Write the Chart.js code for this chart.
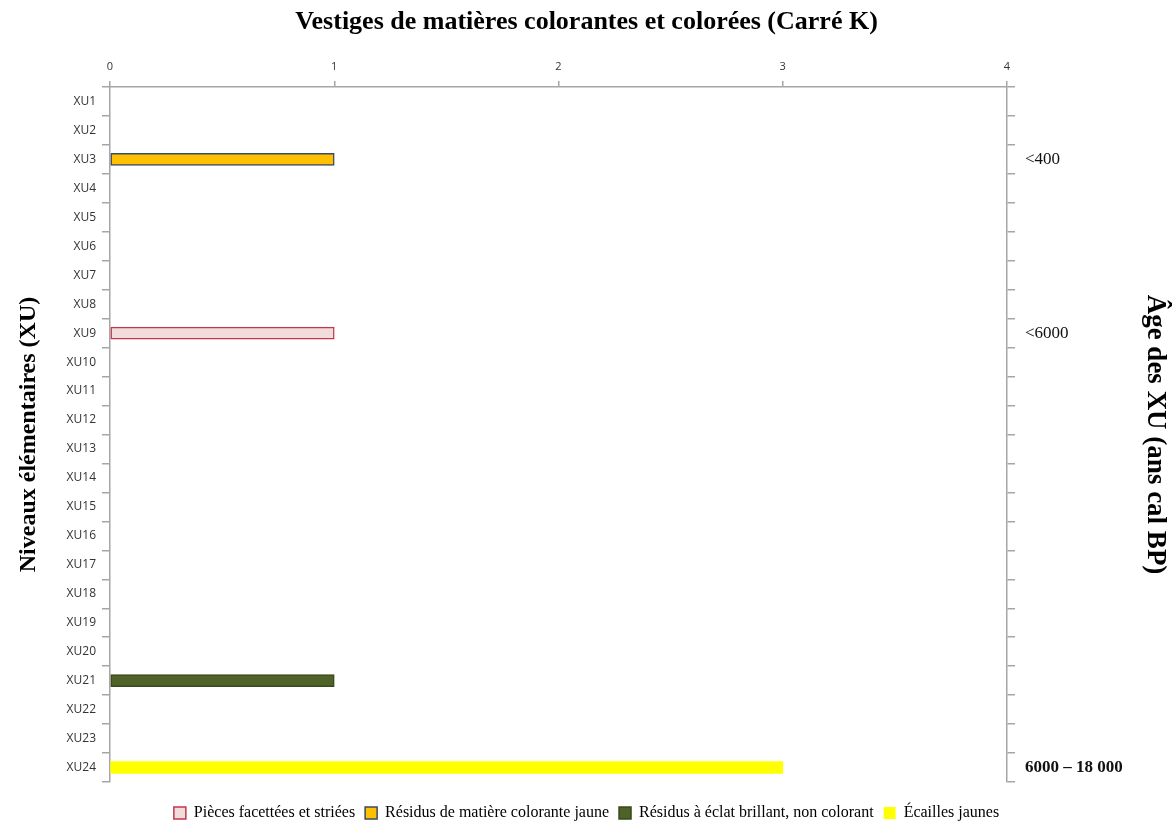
<!DOCTYPE html>
<html>
<head>
<meta charset="utf-8">
<script src="https://cdn.jsdelivr.net/npm/chart.js@4.4.0/dist/chart.umd.min.js"></script>
<style>
  html, body { margin: 0; padding: 0; background: #fff; }
  #wrap { width: 1173px; height: 825px; }
</style>
</head>
<body>
<div id="wrap"><canvas id="graphique"></canvas></div>
<script>
// Niveaux élémentaires
const niveaux = ['XU1','XU2','XU3','XU4','XU5','XU6','XU7','XU8','XU9','XU10','XU11','XU12',
                 'XU13','XU14','XU15','XU16','XU17','XU18','XU19','XU20','XU21','XU22','XU23','XU24'];
// Âge des XU (axe de droite)
const ages = ['','','<400','','','','','','<6000','','','','','','','','','','','','','','','6000 – 18 000'];

// Séries (nombre de vestiges)
const piecesFacettees = [null,null,null,null,null,null,null,null,1,null,null,null,null,null,null,null,null,null,null,null,null,null,null,null];
const residusJaune    = [null,null,1,null,null,null,null,null,null,null,null,null,null,null,null,null,null,null,null,null,null,null,null,null];
const residusBrillant = [null,null,null,null,null,null,null,null,null,null,null,null,null,null,null,null,null,null,null,null,1,null,null,null];
const ecaillesJaunes  = [null,null,null,null,null,null,null,null,null,null,null,null,null,null,null,null,null,null,null,null,null,null,null,3];

const xTicks = [0, 1, 2, 3, 4];

const gris = '#A6A6A6';
const serif = "'Liberation Serif', 'DejaVu Serif', serif";
const sans = "'Open Sans', 'DejaVu Sans', sans-serif";

const data = {
    labels: niveaux,
    datasets: [
        { label: 'Pièces facettées et striées', data: piecesFacettees,
          backgroundColor: '#F2DCDB', borderColor: '#C0394F', borderWidth: 1.5 },
        { label: 'Résidus de matière colorante jaune', data: residusJaune,
          backgroundColor: '#FFC000', borderColor: '#3B4A63', borderWidth: 1.5 },
        { label: 'Résidus à éclat brillant, non colorant', data: residusBrillant,
          backgroundColor: '#4F6228', borderColor: '#3A4A1C', borderWidth: 1.5 },
        { label: 'Écailles jaunes', data: ecaillesJaunes,
          backgroundColor: '#FFFF00', borderColor: '#FFFF00', borderWidth: 0 }
    ]
};

const config = {
    type: 'bar',
    data: data,
    options: {
        indexAxis: 'y',
        responsive: true,
        maintainAspectRatio: false,
        animation: false,
        layout: { padding: { top: 0, right: 0, bottom: -6, left: 0 } },
        datasets: { bar: { barThickness: 12, borderSkipped: false } },
        plugins: {
            title: {
                display: true,
                text: 'Vestiges de matières colorantes et colorées (Carré K)',
                color: '#000',
                font: { family: serif, size: 26, weight: 'bold' },
                padding: { top: 7, bottom: 4 }
            },
            legend: {
                position: 'bottom',
                // titre vide : sert juste d'espace au-dessus des étiquettes
                title: { display: true, text: ' ', font: { size: 10, lineHeight: 1.3 }, padding: 0 },
                labels: {
                    color: '#000',
                    font: { family: serif, size: 16 },
                    boxWidth: 12,
                    boxHeight: 12,
                    padding: 10
                }
            },
            tooltip: { enabled: false }
        },
        scales: {
            x: {
                position: 'top',
                stacked: true,
                min: 0,
                max: 4,
                afterBuildTicks: function (scale) {
                    scale.ticks = xTicks.map(v => ({ value: v }));
                },
                afterFit: function (scale) { scale.height = 44.8; },
                grid: { drawOnChartArea: false, color: gris, tickLength: 6, lineWidth: 1.5 },
                border: { color: gris, width: 1.5 },
                ticks: { color: '#333', font: { family: sans, size: 11 }, padding: 8 }
            },
            y: {
                position: 'left',
                stacked: true,
                afterFit: function (scale) { scale.width = 110; },
                grid: { drawOnChartArea: false, offset: true, color: gris, tickLength: 8, lineWidth: 1.5 },
                border: { color: gris, width: 1.5 },
                ticks: { color: '#333', font: { family: sans, size: 12 }, padding: 6, autoSkip: false },
                title: {
                    display: true,
                    text: 'Niveaux élémentaires (XU)',
                    color: '#000',
                    font: { family: serif, size: 24, weight: 'bold' },
                    padding: { top: 14, bottom: 0 }
                }
            },
            y2: {
                type: 'category',
                position: 'right',
                labels: ages,
                afterFit: function (scale) { scale.width = 166; },
                grid: { drawOnChartArea: false, offset: true, color: gris, tickLength: 8, lineWidth: 1.5 },
                border: { color: gris, width: 1.5 },
                ticks: {
                    color: '#111',
                    autoSkip: false,
                    padding: 10,
                    font: function (ctx) {
                        return ctx.index === ages.length - 1
                            ? { family: serif, size: 17, weight: 'bold' }
                            : { family: serif, size: 17 };
                    }
                },
                title: {
                    display: true,
                    text: 'Âge des XU (ans cal BP)',
                    color: '#000',
                    font: { family: serif, size: 27, weight: 'bold' },
                    padding: { top: 2, bottom: 2 }
                }
            }
        }
    }
};

const ctx = document.getElementById('graphique').getContext('2d');
const graphique = new Chart(ctx, config);
</script>
</body>
</html>
